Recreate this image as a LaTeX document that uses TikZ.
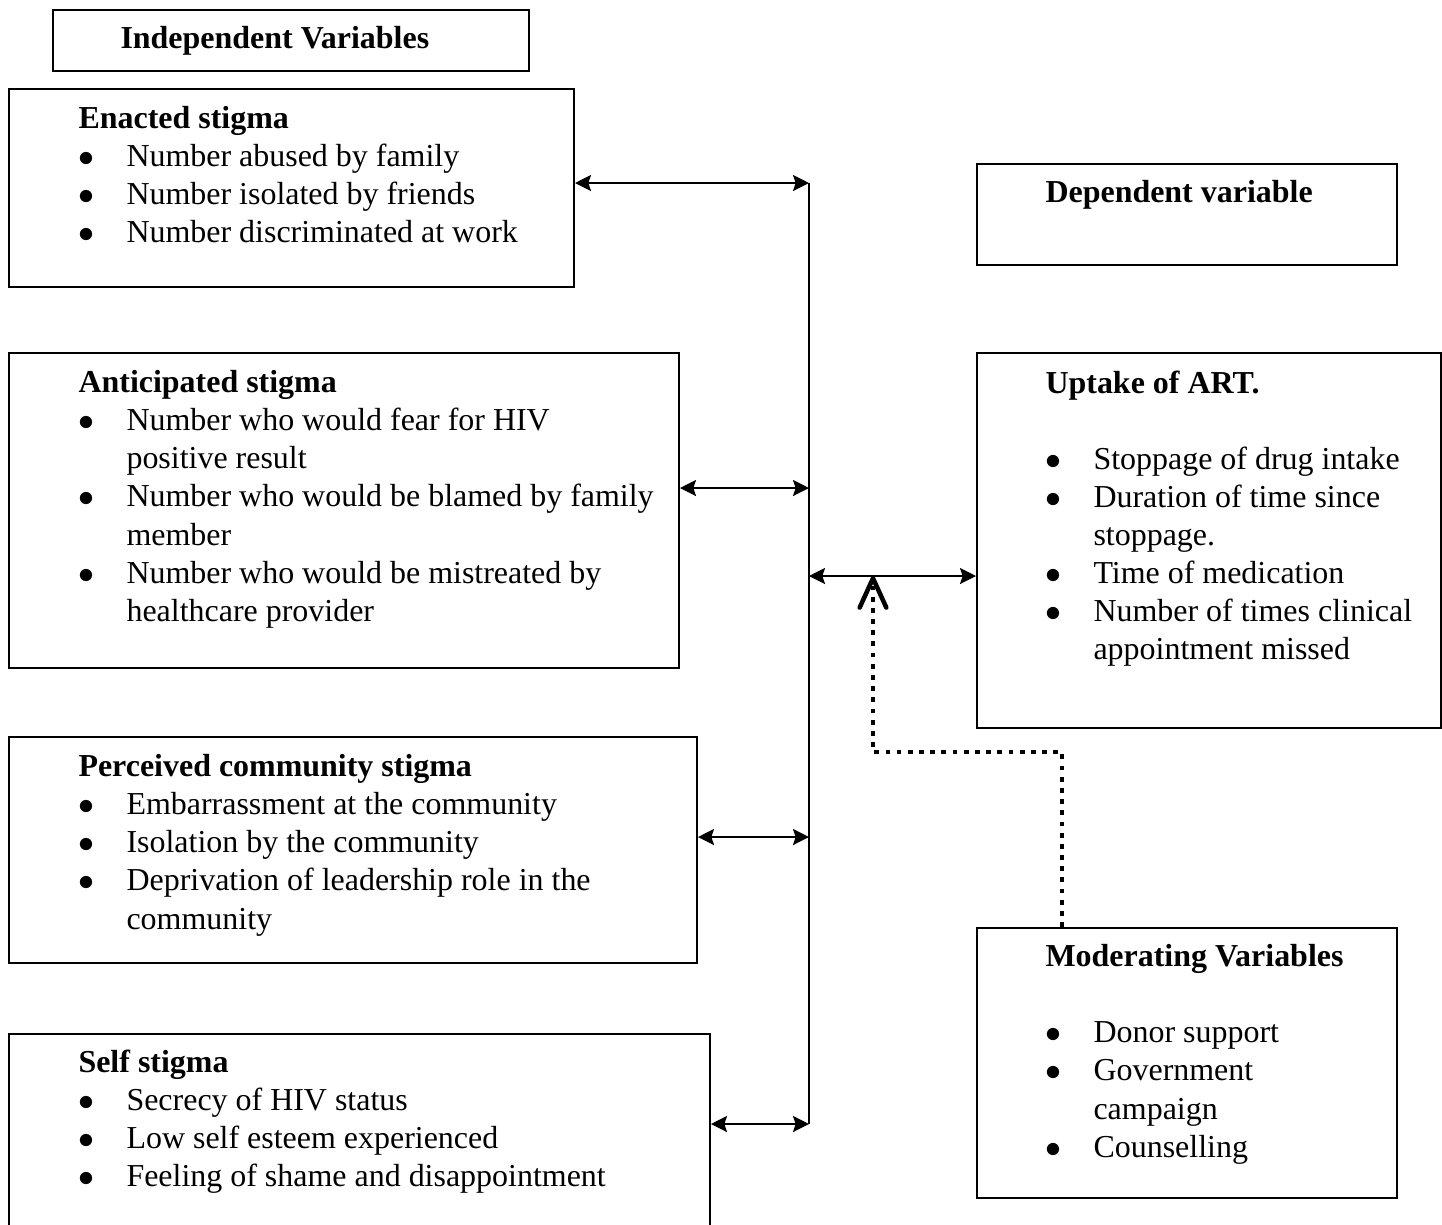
\documentclass[tikz,border=0pt]{standalone}
\usepackage{fontspec}
\setmainfont{Liberation Serif}
\usetikzlibrary{arrows.meta}
\newlength\px
\setlength\px{0.0132cm}
\newcommand\bul{\makebox[48\px][l]{$\bullet$}}
\newcommand\cont{\hspace*{48\px}}
\tikzset{
  box/.style={draw, line width=0.75pt, anchor=north west, inner sep=0pt},
  lbl/.style={anchor=north west, inner sep=0pt, align=left, font=\fontsize{12}{14.3}\selectfont},
  link/.style={line width=0.9pt, {Stealth[length=6pt,width=6pt,inset=1pt]}-{Stealth[length=6pt,width=6pt,inset=1pt]}},
  modlink/.style={line width=1.7pt, dash pattern=on 1.8pt off 2.4pt, -{Straight Barb[length=11pt,width=10pt,round]}}
}
\begin{document}
\begin{tikzpicture}[x=0.0132cm,y=-0.0132cm]
\useasboundingbox (0,0) rectangle (1442,1224);
\clip (0,0) rectangle (1442,1224);
\node[box, minimum width=476\px, minimum height=61\px] (indep) at (52,9) {};
\node[lbl] (indeplbl) at (120,26) {\textbf{Independent Variables}};
\node[box, minimum width=565\px, minimum height=198\px] (enacted) at (8,88) {};
\node[lbl] (enactedlbl) at (78,106) {\textbf{Enacted stigma}\\
\bul Number abused by family\\
\bul Number isolated by friends\\
\bul Number discriminated at work};
\node[box, minimum width=670\px, minimum height=315\px] (anticip) at (8,352) {};
\node[lbl] (anticiplbl) at (78,370) {\textbf{Anticipated stigma}\\
\bul Number who would fear for HIV\\
\cont positive result\\
\bul Number who would be blamed by family\\
\cont member\\
\bul Number who would be mistreated by\\
\cont healthcare provider};
\node[box, minimum width=688\px, minimum height=226\px] (perceived) at (8,736) {};
\node[lbl] (perceivedlbl) at (78,754) {\textbf{Perceived community stigma}\\
\bul Embarrassment at the community\\
\bul Isolation by the community\\
\bul Deprivation of leadership role in the\\
\cont community};
\node[box, minimum width=701\px, minimum height=220\px] (selfst) at (8,1033) {};
\node[lbl] (selfstlbl) at (78,1049) {\textbf{Self stigma}\\
\bul Secrecy of HIV status\\
\bul Low self esteem experienced\\
\bul Feeling of shame and disappointment};
\node[box, minimum width=420\px, minimum height=101\px] (dep) at (976,163) {};
\node[lbl] (deplbl) at (1045,180) {\textbf{Dependent variable}};
\node[box, minimum width=464\px, minimum height=375\px] (uptake) at (976,352) {};
\node[lbl] (uptakelbl) at (1045,370) {\textbf{Uptake of ART.}\\[14.3pt]
\bul Stoppage of drug intake\\
\bul Duration of time since\\
\cont stoppage.\\
\bul Time of medication\\
\bul Number of times clinical\\
\cont appointment missed};
\node[box, minimum width=420\px, minimum height=270\px] (moder) at (976,927) {};
\node[lbl] (moderlbl) at (1045,944) {\textbf{Moderating Variables}\\[14.3pt]
\bul Donor support\\
\bul Government\\
\cont campaign\\
\bul Counselling};
\coordinate (b1) at (809,183);
\coordinate (b2) at (809,488);
\coordinate (b3) at (809,837);
\coordinate (b4) at (809,1124);
\coordinate (bm) at (809,576);
\coordinate (mt) at (1062,927);
\coordinate (mk) at (873,752);
\draw[line width=0.9pt] (b1) -- (b4);
\draw[link] (enacted.east |- b1) -- (b1);
\draw[link] (anticip.east |- b2) -- (b2);
\draw[link] (perceived.east |- b3) -- (b3);
\draw[link] (selfst.east |- b4) -- (b4);
\draw[link] (bm) -- (uptake.west |- bm);
\draw[modlink] (mt) |- (mk) -- (mk |- bm);
\end{tikzpicture}
\end{document}
